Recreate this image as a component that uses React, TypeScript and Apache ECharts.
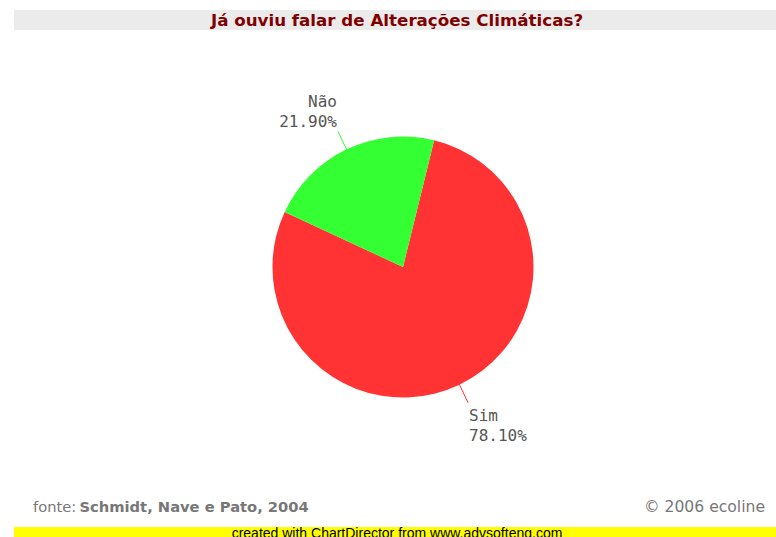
import React, { useEffect, useRef } from "react";
import * as echarts from "echarts";

const titleText = "Já ouviu falar de Alterações Climáticas?";
const categories = ["Sim", "Não"];
const values = [78.1, 21.9];
const colors = ["#ff3333", "#33ff33"];
const sourceLabel = "fonte:";
const sourceText = "Schmidt, Nave e Pato, 2004";
const copyrightText = "© 2006 ecoline";
const creditText = "created with ChartDirector from www.advsofteng.com";

export default function App() {
  const ref = useRef<HTMLDivElement>(null);
  useEffect(() => {
    if (!ref.current) return;
    const chart = echarts.init(ref.current, null, { renderer: "svg" });
    const labelShift = [23, -20];
    chart.setOption({
      animation: false,
      backgroundColor: "#ffffff",
      title: {
        text: titleText,
        left: 397,
        top: 11,
        textAlign: "center",
        textStyle: {
          fontFamily: "DejaVu Sans",
          fontWeight: "bold",
          fontSize: 16.7,
          color: "#800000",
          lineHeight: 18,
        },
        padding: 0,
      },
      graphic: [
        {
          type: "rect",
          z: -1,
          shape: { x: 14, y: 10, width: 762, height: 20 },
          style: { fill: "#ebebeb" },
        },
        {
          type: "text",
          x: 33,
          y: 499,
          style: {
            text: "{n|" + sourceLabel + "} {b|" + sourceText + "}",
            rich: {
              n: { fontFamily: "DejaVu Sans", fontSize: 14.7, fill: "#777777", fontWeight: "normal" },
              b: { fontFamily: "DejaVu Sans", fontSize: 14.7, fill: "#777777", fontWeight: "bold" },
            },
          },
        },
        {
          type: "text",
          x: 765,
          y: 499,
          style: {
            text: copyrightText,
            align: "right",
            fontFamily: "DejaVu Sans",
            fontSize: 15.6,
            fill: "#777777",
          },
        },
        {
          type: "rect",
          shape: { x: 14, y: 527, width: 762, height: 12 },
          style: { fill: "#ffff00" },
        },
        {
          type: "text",
          x: 397,
          y: 526,
          style: {
            text: creditText,
            align: "center",
            fontFamily: "Liberation Sans",
            fontSize: 14,
            fill: "#000000",
          },
        },
      ],
      series: [
        {
          type: "pie",
          center: [403, 267],
          radius: 130.5,
          startAngle: 76.2,
          clockwise: true,
          avoidLabelOverlap: false,
          label: {
            show: true,
            position: "outside",
            fontFamily: "DejaVu Sans Mono",
            fontSize: 16,
            lineHeight: 20,
            color: "#555555",
            distanceToLabelLine: 1,
            formatter: (p: any) => p.name + "\n" + Number(p.value).toFixed(2) + "%",
          },
          labelLine: {
            show: true,
            length: 20,
            length2: 0,
            smooth: false,
          },
          labelLayout: (params: any) => ({
            dy: labelShift[params.dataIndex],
            labelLinePoints: params.labelLinePoints,
          }),
          emphasis: { disabled: true },
          data: categories.map((c, i) => ({
            name: c,
            value: values[i],
            itemStyle: { color: colors[i] },
            labelLine: { lineStyle: { color: colors[i], width: 1 } },
          })),
        },
      ],
    });
    return () => chart.dispose();
  }, []);
  return (
    <div
      ref={ref}
      style={{ position: "absolute", left: 0, top: 0, width: 776, height: 537 }}
    />
  );
}
